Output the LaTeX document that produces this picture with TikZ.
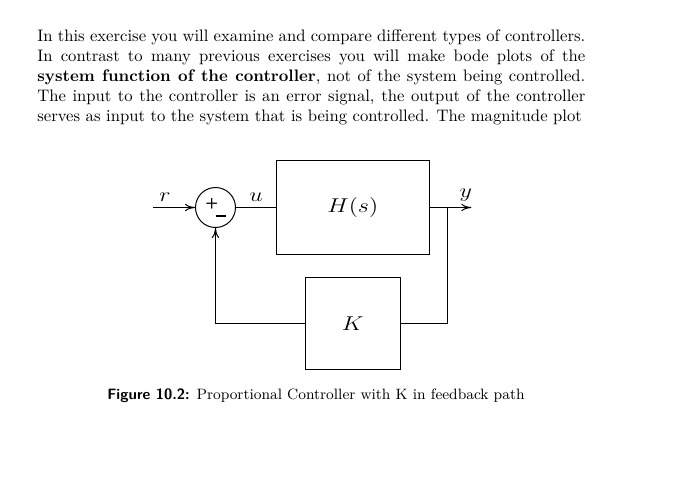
\documentclass[tikz,border=0pt]{standalone}
\usepackage{graphicx}
\usepackage{tikz}
\usetikzlibrary{arrows.meta,positioning}
\tikzset{
  blk/.style={draw, line width=0.6pt, inner sep=0pt, font=\large},
  sumnode/.style={draw, circle, line width=0.6pt, minimum size=24pt, inner sep=0pt},
  lbl/.style={font=\large},
  wire/.style={line width=0.6pt},
  arr/.style={-{To[length=6pt,width=4.5pt]}, line width=0.6pt}}
\newcommand{\wide}[1]{\scalebox{1.2}[1]{#1}}

\begin{document}
\begin{tikzpicture}[x=0.6pt, y=-0.6pt, node distance=24pt]
  \useasboundingbox (0,0) rectangle (673,484);
  \node[anchor=north west, inner sep=0pt, text width=328.8pt, align=justify] (intro) at (37,29)
    {\fontsize{10}{12.4}\selectfont\parindent=0pt\parfillskip=0pt
     In this exercise you will examine and compare different types of controllers.\linebreak
     In contrast to many previous exercises you will make bode plots of the\linebreak
     \textbf{system function of the controller}, not of the system being controlled.\linebreak
     The input to the controller is an error signal, the output of the controller\linebreak
     serves as input to the system that is being controlled. The magnitude plot};
  \node[sumnode] (sum) at (215.5,207.5)
    {{\small\sffamily\bfseries +}\kern-1.5pt\rule[-5.9pt]{6pt}{1pt}};
  \node[blk, minimum width=91.6pt, minimum height=56.6pt, right=of sum] (H) {\wide{$H(s)$}};
  \node[blk, minimum width=57pt, minimum height=55.4pt, below=13pt of H] (K) {\wide{$K$}};
  \coordinate[left=25pt of sum] (in);
  \coordinate[right=25pt of H] (out);
  \coordinate[right=11pt of H] (br);
  \draw[arr] (in) node[lbl, above right] (lr) {\wide{$r$}} -- (sum);
  \draw[wire] (sum) -- node[lbl, above] (lu) {\wide{$u$}} (sum -| H.west);
  \draw[arr] (H) -- (out) node[lbl, above left, xshift=4pt] (ly) {\wide{$y$}};
  \draw[wire] (br) |- (K);
  \draw[arr] (K) -| (sum);
  \node[anchor=base west, inner sep=0pt, font=\small] (cap) at (107,399)
    {\textsf{\bfseries Figure 10.2:} Proportional Controller with K in feedback path};
\end{tikzpicture}
\end{document}
